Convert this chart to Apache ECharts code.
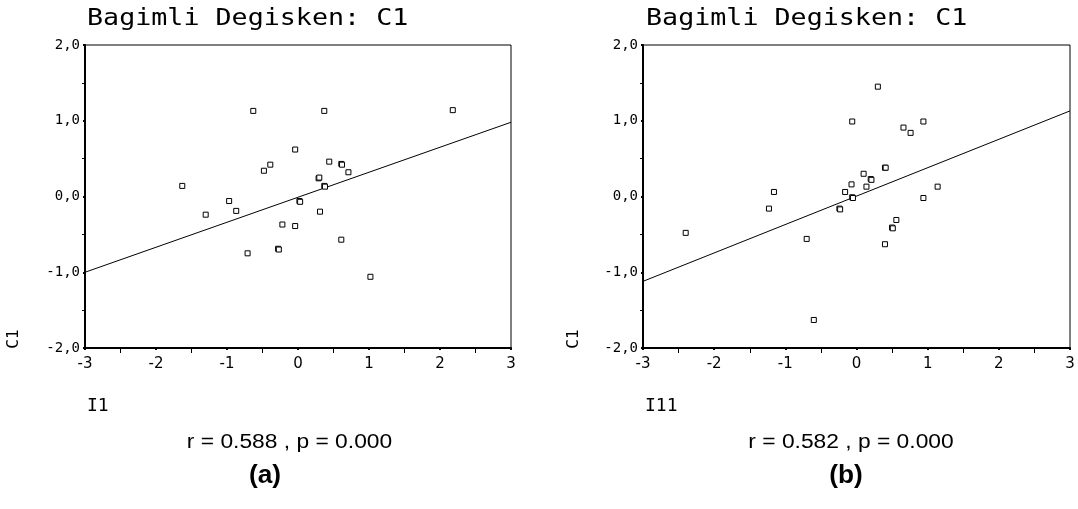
<!DOCTYPE html>
<html>
<head>
<meta charset="utf-8">
<script src="https://cdn.jsdelivr.net/npm/echarts@6/dist/echarts.min.js"></script>
<style>
html,body{margin:0;padding:0;background:#fff;}
#chart{width:1078px;height:509px;}
</style>
</head>
<body>
<div id="chart"></div>
<script>
// ---- data ----
const titleText = 'Bagimli Degisken: C1';
const yName = 'C1';
const xNameA = 'I1';
const xNameB = 'I11';
const statA = 'r = 0.588 , p = 0.000';
const statB = 'r = 0.582 , p = 0.000';
const panelA = '(a)';
const panelB = '(b)';

const xTickLabels = ['-3', '-2', '-1', '0', '1', '2', '3'];
const yTickLabels = ['-2,0', '-1,0', '0,0', '1,0', '2,0'];

// panel (a): I1 vs C1
const xA = [-0.63, 0.37, 2.18, -0.04, -0.48, -0.39, 0.44, 0.61, 0.62, 0.71, 0.29, 0.30, 0.37, 0.38, -1.63, -0.97, -1.30, -0.87, 0.02, 0.03, 0.31, -0.22, -0.04, -0.71, -0.28, -0.27, 0.61, 1.02];
const yA = [1.13, 1.13, 1.14, 0.62, 0.34, 0.42, 0.46, 0.43, 0.42, 0.32, 0.24, 0.25, 0.14, 0.13, 0.14, -0.06, -0.24, -0.19, -0.06, -0.07, -0.20, -0.37, -0.39, -0.75, -0.69, -0.70, -0.57, -1.06];
const fitAX = [-3, 3];
const fitAY = [-1.00, 0.98];

// panel (b): I11 vs C1
const xB = [0.30, -0.06, 0.94, 0.66, 0.76, 0.40, 0.41, 0.10, 0.20, 0.21, -0.07, 0.14, -0.16, -1.16, 1.14, -0.06, -0.05, 0.94, -1.23, -0.24, -0.23, -2.40, -0.70, 0.56, 0.50, 0.51, 0.40, -0.60];
const yB = [1.45, 0.99, 0.99, 0.91, 0.84, 0.38, 0.38, 0.30, 0.23, 0.22, 0.16, 0.13, 0.06, 0.06, 0.13, -0.01, -0.02, -0.02, -0.16, -0.16, -0.17, -0.48, -0.56, -0.31, -0.41, -0.42, -0.63, -1.63];
const fitBX = [-3, 3];
const fitBY = [-1.12, 1.13];

const xMin = -3, xMax = 3, yMin = -2, yMax = 2;

// ---- build ----
const zip = (a, b) => a.map((v, i) => [v, b[i]]);
const monoFont = '"DejaVu Sans Mono", monospace';

function makeX(gi) {
  return {
    type: 'value', gridIndex: gi, min: xMin, max: xMax, interval: 1,
    axisLine: { show: true, onZero: false, lineStyle: { color: '#000', width: 2 } },
    axisTick: { show: true, length: 2, lineStyle: { color: '#000', width: 2 } },
    minorTick: { show: true, splitNumber: 2, length: 5, lineStyle: { color: '#000', width: 1 } },
    splitLine: { show: false },
    axisLabel: {
      color: '#000', fontFamily: 'DejaVu Sans', fontSize: 15, margin: 9,
      formatter: v => xTickLabels[Math.round(v - xMin)]
    }
  };
}
function makeY(gi) {
  return {
    type: 'value', gridIndex: gi, min: yMin, max: yMax, interval: 1,
    axisLine: { show: true, onZero: false, lineStyle: { color: '#000', width: 2 } },
    axisTick: { show: true, length: 2, lineStyle: { color: '#000', width: 2 } },
    minorTick: { show: true, splitNumber: 2, length: 3, lineStyle: { color: '#000', width: 1 } },
    splitLine: { show: false },
    axisLabel: {
      color: '#000', fontFamily: 'DejaVu Sans Mono', fontSize: 14, margin: 5,
      formatter: v => yTickLabels[Math.round(v - yMin)]
    }
  };
}
function scatter(gi, data) {
  return {
    type: 'scatter', xAxisIndex: gi, yAxisIndex: gi, data: data,
    symbol: 'rect', symbolSize: 5,
    itemStyle: { color: '#fff', borderColor: '#000', borderWidth: 1, opacity: 1 },
    silent: true
  };
}
function fit(gi, data) {
  return {
    type: 'line', xAxisIndex: gi, yAxisIndex: gi, data: data,
    showSymbol: false, symbol: 'none',
    lineStyle: { color: '#000', width: 1 }, silent: true, z: 1
  };
}
function txt(x, y, text, font, opts) {
  return Object.assign({
    type: 'text', x: x, y: y, silent: true,
    style: Object.assign({ text: text, font: font, fill: '#000', align: 'left', verticalAlign: 'middle' }, opts && opts.style || {})
  }, opts && opts.el || {});
}

const option = {
  animation: false,
  backgroundColor: '#fff',
  grid: [
    { left: 85, top: 45, width: 426, height: 303, show: true, borderColor: '#000', borderWidth: 1, backgroundColor: 'transparent' },
    { left: 643, top: 45, width: 427, height: 303, show: true, borderColor: '#000', borderWidth: 1, backgroundColor: 'transparent' }
  ],
  xAxis: [makeX(0), makeX(1)],
  yAxis: [makeY(0), makeY(1)],
  series: [
    fit(0, zip(fitAX, fitAY)),
    scatter(0, zip(xA, yA)),
    fit(1, zip(fitBX, fitBY)),
    scatter(1, zip(xB, yB))
  ],
  graphic: [
    txt(87, 19, titleText, '23px ' + monoFont, { el: { scaleX: 1.16 } }),
    txt(646, 19, titleText, '23px ' + monoFont, { el: { scaleX: 1.16 } }),
    txt(14, 339, yName, '16px ' + monoFont, { el: { rotation: Math.PI / 2 }, style: { align: 'center' } }),
    txt(574, 339, yName, '16px ' + monoFont, { el: { rotation: Math.PI / 2 }, style: { align: 'center' } }),
    txt(87, 406, xNameA, '18px ' + monoFont),
    txt(645, 406, xNameB, '18px ' + monoFont),
    txt(289.5, 442, statA, '20px "Liberation Sans", Arial, sans-serif', { el: { scaleX: 1.14 }, style: { align: 'center' } }),
    txt(851, 442, statB, '20px "Liberation Sans", Arial, sans-serif', { el: { scaleX: 1.14 }, style: { align: 'center' } }),
    txt(265, 476, panelA, 'bold 25px "Liberation Sans", Arial, sans-serif', { el: { scaleX: 1.05 }, style: { align: 'center' } }),
    txt(846, 476, panelB, 'bold 25px "Liberation Sans", Arial, sans-serif', { el: { scaleX: 1.05 }, style: { align: 'center' } })
  ]
};

const chart = echarts.init(document.getElementById('chart'), null, { renderer: 'canvas' });
chart.setOption(option);
</script>
</body>
</html>
